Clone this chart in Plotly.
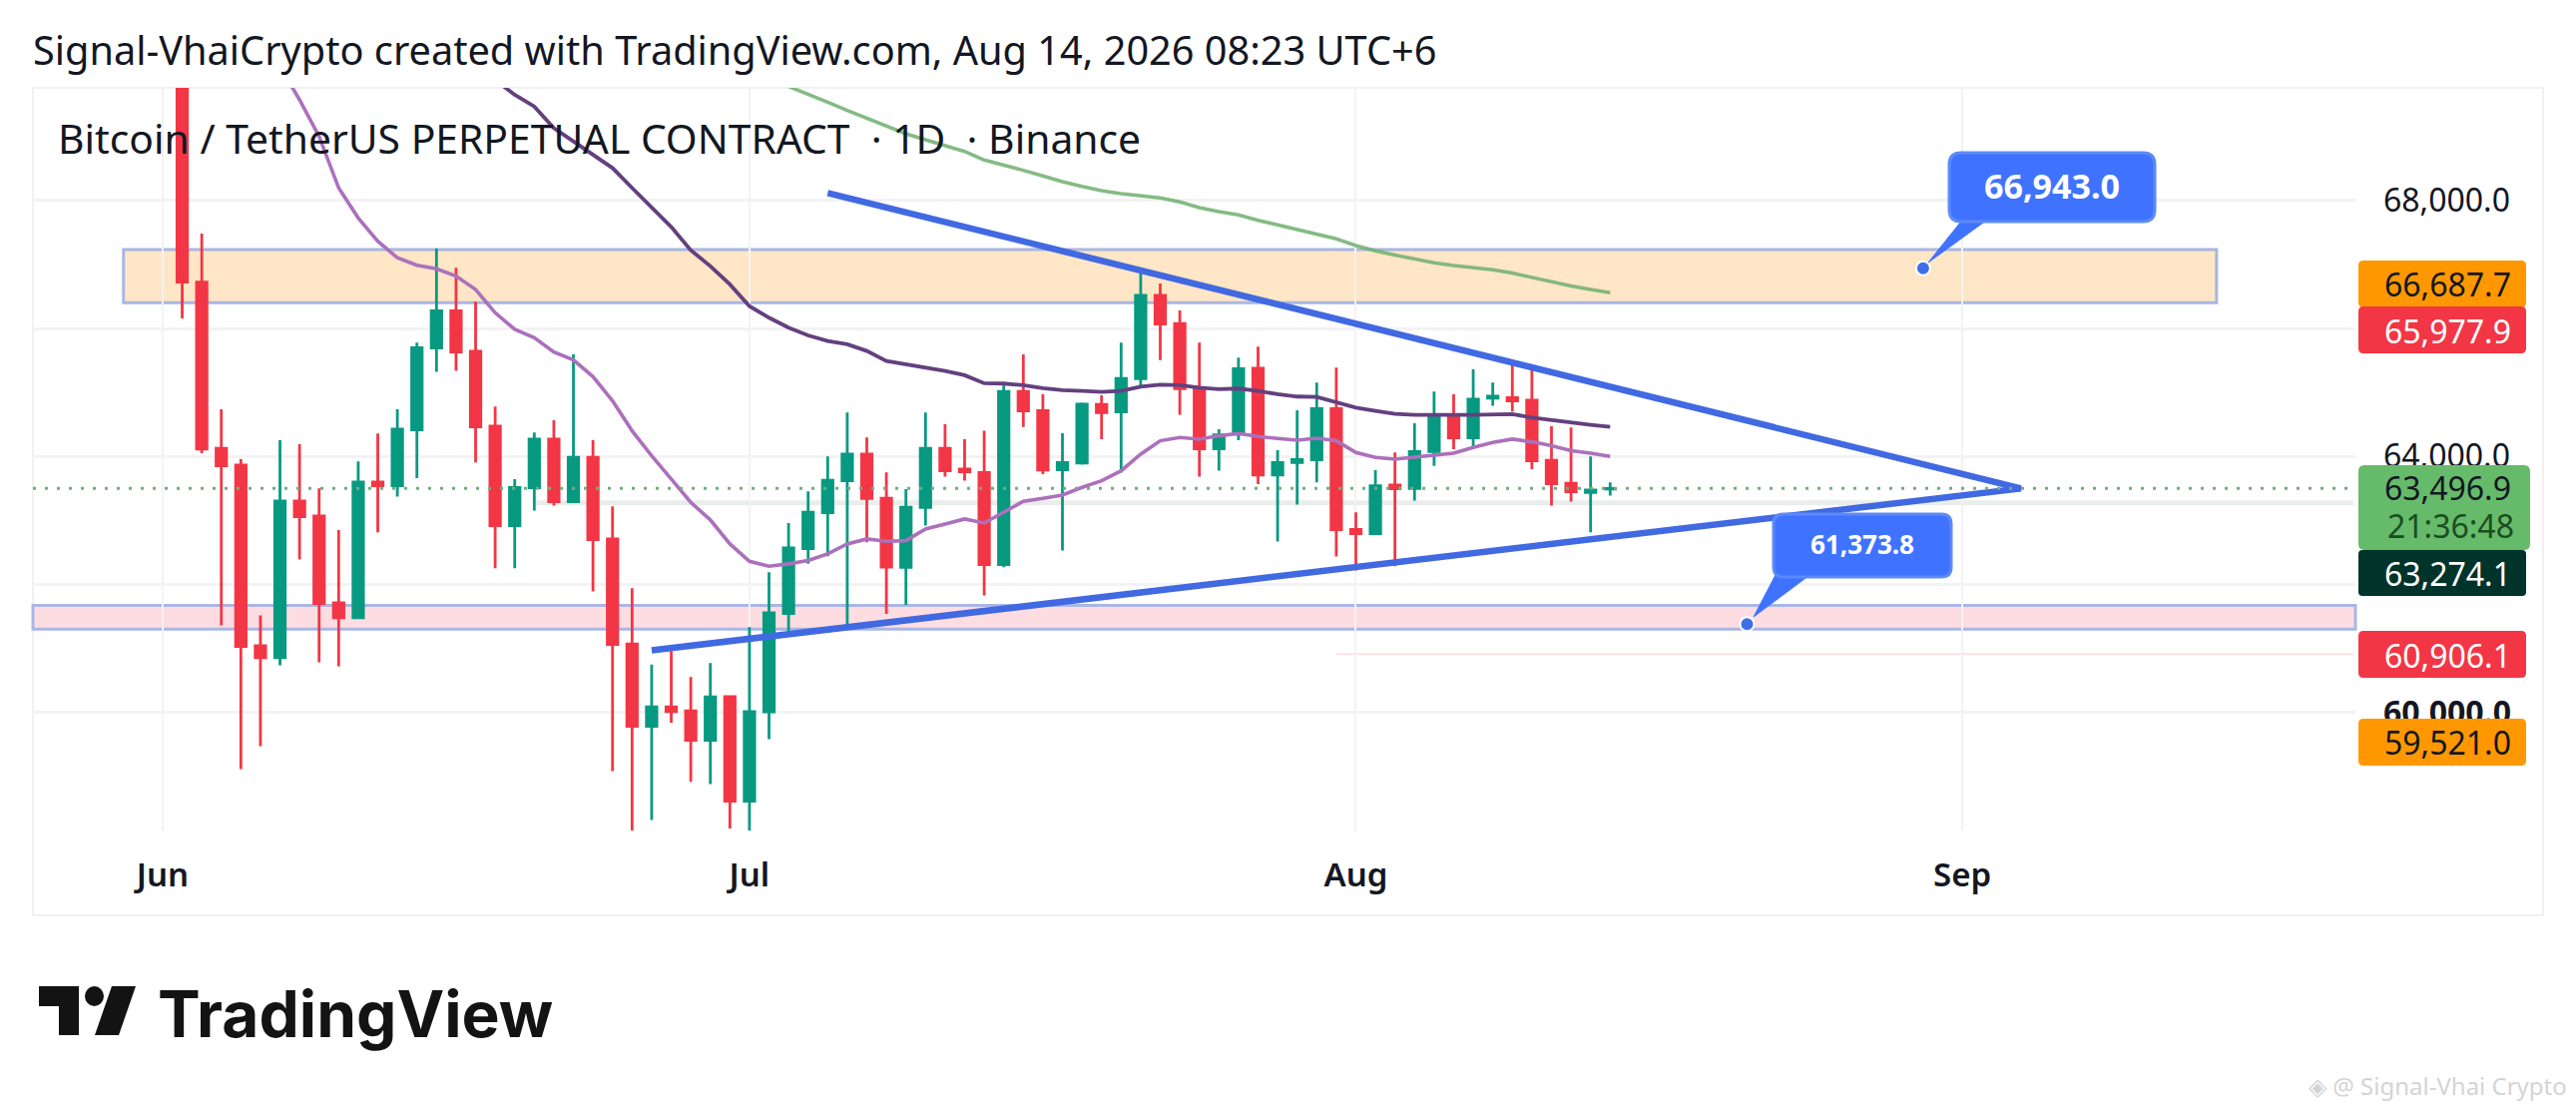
import pandas as pd
import plotly.graph_objects as go

# Daily candles (first candle is cut by the top of the pane)
opens = [70800, 66725, 64123, 63863, 61037, 60850, 63301, 63067, 61709, 61475, 63598, 63541, 64414, 65695, 66277, 65643, 64472, 62916, 63509, 64269, 63291, 63983, 62708, 61063, 59778, 60080, 60017, 59559, 60241,
         58607, 60002, 61542, 62557, 63119, 63619, 64035, 63343, 62265, 63202, 64123, 63800, 63748, 62307, 65013, 64716, 63790, 63894, 64810, 64695, 65216, 66517, 66075, 65070, 64118, 64347, 65377, 63707, 63904, 63946, 64747,
         62858, 62791, 63551, 63498, 64076, 64649, 64290, 64909, 64919, 64878, 63936, 63577, 63436, 63488]
highs = [71500, 67485, 64737, 63957, 61511, 64253, 64191, 63499, 62848, 63920, 64357, 64737, 65778, 67251, 66949, 66418, 64779, 63644, 64373, 64565, 65596, 64253, 63218, 61938, 60741, 60954, 60548, 60767, 60252,
         61329, 62188, 62958, 63452, 63999, 64685, 64295, 63749, 63488, 64685, 64503, 64269, 64399, 65127, 65596, 64971, 64362, 64841, 64956, 65778, 66923, 66704, 66283, 65778, 64425, 65544, 65715, 64097, 64721, 65153, 65388,
         63124, 63785, 64061, 64518, 65013, 64971, 65362, 65153, 65492, 65388, 64472, 64451, 63998, 63592]
lows = [66158, 64050, 61355, 59107, 59466, 60730, 62385, 60777, 60715, 61475, 62812, 63369, 63660, 65320, 65336, 63904, 62250, 62250, 63150, 63228, 63291, 61886, 59075, 58100, 58310, 59835, 58909, 58873, 58180,
        58100, 59575, 61251, 62318, 62437, 61303, 62656, 61537, 61677, 62916, 63681, 63618, 61823, 62265, 64461, 63722, 62525, 63868, 64269, 63748, 65112, 65507, 64649, 63681, 63774, 64253, 63566, 62666, 63244, 63592, 62432,
        62213, 62791, 62281, 63306, 63852, 64113, 64139, 64789, 64701, 63800, 63228, 63290, 62812, 63384]
closes = [66725, 64113, 63853, 61027, 60850, 63301, 63057, 61698, 61475, 63598, 63541, 64425, 65700, 66277, 65632, 64461, 62916, 63514, 64269, 63291, 63983, 62698, 61058, 59778, 60080, 60007, 59559, 60236, 58607,
          60007, 61553, 62567, 63124, 63624, 64035, 63342, 62266, 63202, 64123, 63774, 63759, 62307, 65013, 64711, 63785, 63904, 64815, 64685, 65216, 66517, 66069, 65060, 64118, 64336, 65372, 63707, 63904, 63951, 64747, 62853,
          62791, 63540, 63493, 64076, 64649, 64290, 64893, 64940, 64867, 63930, 63571, 63447, 63473, 63497]

# Moving averages, each one starts on its own date
ma_fast = [70097, 69577, 69004, 68198, 67729, 67365, 67105, 66990, 66933, 66819, 66610, 66246, 65986, 65856, 65632, 65507, 65247, 64867, 64399, 64009, 63644, 63280, 63005, 62630,
           62359, 62281, 62318, 62370, 62474, 62630, 62708, 62671, 62681, 62864, 62942, 63020, 62957, 63124, 63296, 63342, 63394, 63514, 63618, 63774, 64035, 64243, 64295, 64269, 64321, 64357, 64310, 64279, 64253, 64284, 64243,
           64061, 63983, 63956, 63983, 64019, 64050, 64139, 64217, 64269, 64227, 64165, 64087, 64050, 63998]
ma_mid = [69889, 69655, 69473, 69135, 68926, 68718, 68510, 68198, 67886, 67589, 67225, 66975, 66689,
          66350, 66168, 66012, 65892, 65804, 65752, 65648, 65492, 65440, 65388, 65336, 65268, 65143, 65138, 65112, 65065, 65034, 65023, 65008, 65023, 65091, 65122, 65112, 65075, 65049, 65060, 65023, 64971, 64935, 64930, 64841,
          64763, 64711, 64664, 64649, 64643, 64649, 64649, 64659, 64659, 64607, 64565, 64529, 64493, 64461]
ma_slow = [69785, 69665, 69540, 69410, 69291, 69171, 69046, 68952, 68859, 68770, 68635, 68557, 68474, 68385, 68297, 68224, 68156, 68109, 68078, 68042, 67979, 67891, 67828, 67776, 67693, 67620, 67547, 67485, 67402,
           67298, 67214, 67147, 67084, 67027, 66985, 66954, 66918, 66866, 66798, 66720, 66663, 66611, 66559]

dates = pd.date_range("2026-06-02", periods=len(closes))
fast_dates = pd.date_range("2026-06-07", periods=len(ma_fast))
mid_dates = pd.date_range("2026-06-18", periods=len(ma_mid))
slow_dates = pd.date_range("2026-07-03", periods=len(ma_slow))

# Triangle drawn on the chart
upper_dates = ["2026-07-05", "2026-09-04"]
upper_prices = [68120, 63497]
lower_dates = ["2026-06-26", "2026-09-04"]
lower_prices = [60965, 63497]

# Callout anchor points
note_dates = ["2026-08-30", "2026-08-21"]
note_prices = [66943.0, 61373.8]

# Axis ticks
price_ticks = [60000, 62000, 64000, 66000, 68000]
price_labels = ["<b>60,000.0</b>", "", "64,000.0", "", "68,000.0"]
month_ticks = ["2026-06-01", "2026-07-01", "2026-08-01", "2026-09-01"]
month_labels = ["Jun", "Jul", "Aug", "Sep"]

# Zones and price lines
supply_zone = [66402, 67235]
demand_zone = [61298, 61667]
last_price = 63496.9
mark_price = 63274.1
low_price = 60906.1

GREEN = "#089981"
RED = "#F23645"
BLUE = "#4169E1"
CALLOUT = "#3F73FF"
FONT = "Noto Sans"

W, H = 2581, 1112
L, R, T, B = 33, 2360, 88, 832


# page pixels to paper coordinates, the labels around the pane are placed by pixel
def fx(px):
    return (px - L) / (R - L)


def fy(py):
    return (B - py) / (B - T)


def poly(points):
    return "M " + " L ".join(f"{fx(x):.5f},{fy(y):.5f}" for x, y in points) + " Z"


def round_box(x0, y0, x1, y1, r=6):
    # rounded rectangle as a paper path, corners as quadratic curves
    return (f"M {fx(x0 + r):.5f},{fy(y0):.5f} L {fx(x1 - r):.5f},{fy(y0):.5f} "
            f"Q {fx(x1):.5f},{fy(y0):.5f} {fx(x1):.5f},{fy(y0 + r):.5f} "
            f"L {fx(x1):.5f},{fy(y1 - r):.5f} Q {fx(x1):.5f},{fy(y1):.5f} {fx(x1 - r):.5f},{fy(y1):.5f} "
            f"L {fx(x0 + r):.5f},{fy(y1):.5f} Q {fx(x0):.5f},{fy(y1):.5f} {fx(x0):.5f},{fy(y1 - r):.5f} "
            f"L {fx(x0):.5f},{fy(y0 + r):.5f} Q {fx(x0):.5f},{fy(y0):.5f} {fx(x0 + r):.5f},{fy(y0):.5f} Z")


fig = go.Figure()
fig.add_trace(go.Scatter(x=slow_dates, y=ma_slow, mode="lines", line=dict(color="rgba(110,175,110,0.85)", width=3.6)))
fig.add_trace(go.Scatter(x=mid_dates, y=ma_mid, mode="lines", line=dict(color="#64407F", width=3.8)))
fig.add_trace(go.Scatter(x=fast_dates, y=ma_fast, mode="lines", line=dict(color="#AC70BC", width=3.6)))
fig.add_trace(go.Candlestick(x=dates, open=opens, high=highs, low=lows, close=closes,
                             increasing=dict(line=dict(color=GREEN, width=2.8), fillcolor=GREEN),
                             decreasing=dict(line=dict(color=RED, width=2.8), fillcolor=RED),
                             whiskerwidth=0))
fig.add_trace(go.Scatter(x=upper_dates, y=upper_prices, mode="lines", line=dict(color=BLUE, width=6.5)))
fig.add_trace(go.Scatter(x=lower_dates, y=lower_prices, mode="lines", line=dict(color=BLUE, width=6.5)))
fig.add_trace(go.Scatter(x=note_dates, y=note_prices, mode="markers",
                         marker=dict(color="#3F6FE8", size=14, line=dict(color="white", width=2))))

shapes = [
    # outer frame of the chart
    dict(type="rect", xref="paper", yref="paper", x0=0, x1=fx(2548), y0=fy(917), y1=1,
         line=dict(color="#F1F1F1", width=2), layer="below"),
    dict(type="rect", xref="x", yref="y", x0="2026-05-30", x1="2026-09-14", y0=supply_zone[0], y1=supply_zone[1],
         fillcolor="#FFE6C6", line=dict(color="#A9B6E2", width=3), layer="below"),
    dict(type="rect", xref="paper", yref="y", x0=0, x1=1, y0=demand_zone[0], y1=demand_zone[1],
         fillcolor="#FDDDE2", line=dict(color="#AAB6E6", width=3), layer="below"),
    dict(type="line", xref="x", yref="y", x0="2026-06-20", x1="2026-09-21", y0=mark_price, y1=mark_price,
         line=dict(color="#E9EDEB", width=5), layer="below"),
    dict(type="line", xref="x", yref="y", x0="2026-07-31", x1="2026-09-21", y0=low_price, y1=low_price,
         line=dict(color="rgba(242,54,69,0.14)", width=2), layer="below"),
    dict(type="line", xref="paper", yref="y", x0=0, x1=1, y0=last_price, y1=last_price,
         line=dict(color="#6FB07C", width=3, dash="3px,9px")),
    # callouts
    dict(type="path", xref="paper", yref="paper", fillcolor=CALLOUT, line=dict(color=CALLOUT, width=1),
         path=poly([(1968, 218), (1994, 218), (1932, 263)])),
    dict(type="path", xref="paper", yref="paper", fillcolor=CALLOUT, line=dict(color="#5C8AF7", width=3),
         path=round_box(1953, 153, 2159, 222, 12)),
    dict(type="path", xref="paper", yref="paper", fillcolor=CALLOUT, line=dict(color=CALLOUT, width=1),
         path=poly([(1780, 574), (1816, 574), (1757, 618)])),
    dict(type="path", xref="paper", yref="paper", fillcolor=CALLOUT, line=dict(color="#5C8AF7", width=3),
         path=round_box(1777, 515, 1955, 578, 10)),
    # last price boxes on the scale
    dict(type="path", xref="paper", yref="paper", fillcolor="#FF9800", line_width=0, path=round_box(2363, 261, 2531, 308, 5)),
    dict(type="path", xref="paper", yref="paper", fillcolor=RED, line_width=0, path=round_box(2363, 307, 2531, 354, 5)),
    dict(type="path", xref="paper", yref="paper", fillcolor="#66BB6A", line_width=0, path=round_box(2363, 466, 2535, 551, 6)),
    dict(type="path", xref="paper", yref="paper", fillcolor="#00332A", line_width=0, path=round_box(2363, 551, 2531, 597, 4)),
    dict(type="path", xref="paper", yref="paper", fillcolor=RED, line_width=0, path=round_box(2363, 632, 2531, 679, 5)),
    dict(type="path", xref="paper", yref="paper", fillcolor="#FF9800", line_width=0, path=round_box(2363, 720, 2531, 767, 5)),
    # TradingView mark
    dict(type="path", xref="paper", yref="paper", fillcolor="#131313", line_width=0,
         path=poly([(39, 988), (79, 988), (79, 1037), (59, 1037), (59, 1008), (39, 1008)])),
    dict(type="circle", xref="paper", yref="paper", fillcolor="#131313", line_width=0,
         x0=fx(85), x1=fx(104), y0=fy(1008), y1=fy(988)),
    dict(type="path", xref="paper", yref="paper", fillcolor="#131313", line_width=0,
         path=poly([(112, 988), (136, 988), (119, 1037), (95, 1037)])),
]


def label(text, px, py, size, color="#131722", anchor="left", weight=400, font=FONT):
    return dict(text=text, xref="paper", yref="paper", x=fx(px), y=fy(py), xanchor=anchor, yanchor="middle",
                showarrow=False, font=dict(family=font, size=size, color=color, weight=weight), borderpad=0)


annotations = [
    label("Signal-VhaiCrypto created with TradingView.com, Aug 14, 2026 08:23 UTC+6", 32, 50, 39.7),
    label("Bitcoin / TetherUS PERPETUAL CONTRACT\u00a0\u00a0·\u00a01D\u00a0\u00a0·\u00a0Binance", 57, 138, 40.8),
    label("66,943.0", 2056, 186, 34, "white", "center", 700),
    label("61,373.8", 1866, 545, 26, "white", "center", 700),
    label("66,687.7", 2452, 284, 32, "#131722", "center"),
    label("65,977.9", 2452, 331, 32, "white", "center"),
    label("63,496.9", 2452, 488, 32, "#131722", "center"),
    label("21:36:48", 2455, 526, 32, "#1B4D20", "center"),
    label("63,274.1", 2452, 574, 32, "white", "center"),
    label("60,906.1", 2452, 656, 32, "white", "center"),
    label("59,521.0", 2452, 743, 32, "#131722", "center"),
    label("TradingView", 157, 1015, 64, "#131313", "left", 700, "Inter"),
    label("\u25c8 @ Signal-Vhai Crypto", 2573, 1087, 24, "#D4D4D4", "right"),
]

fig.update_layout(
    width=W, height=H,
    margin=dict(l=L, r=W - R, t=T, b=H - B),
    paper_bgcolor="white", plot_bgcolor="white",
    showlegend=False, hovermode=False, boxgap=0.24,
    shapes=shapes, annotations=annotations,
    xaxis=dict(type="date", range=["2026-05-25 08:53", "2026-09-21 02:24"], rangeslider=dict(visible=False),
               tickvals=month_ticks, ticktext=month_labels, showgrid=True, gridcolor="#F3F3F3", gridwidth=2,
               zeroline=False, showline=False, ticks="", ticklabelstandoff=22,
               tickfont=dict(family=FONT, size=33, color="#131722", weight=600)),
    yaxis=dict(side="right", range=[58147, 69764], tickvals=price_ticks, ticktext=price_labels,
               showgrid=True, gridcolor="#F3F3F3", gridwidth=3, zeroline=False, showline=False, ticks="",
               ticklabelstandoff=27, tickfont=dict(family=FONT, size=32, color="#131722")),
)

fig.write_html("out.html", config=dict(displayModeBar=False),
               post_script="document.body.style.margin='0';")
